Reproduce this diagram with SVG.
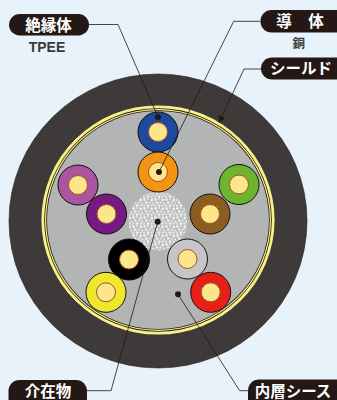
<svg xmlns="http://www.w3.org/2000/svg" width="337" height="400" viewBox="0 0 337 400">
<style>
.pill{fill:#231815}
.lbl{font-family:"Noto Sans CJK JP","Noto Sans",sans-serif;font-weight:700;fill:#fff;text-anchor:middle}
.sub{font-family:"Liberation Sans","Noto Sans CJK JP",sans-serif;font-weight:700;fill:#3a3a3a;text-anchor:middle}
.ins{stroke:#111;stroke-width:1}
.cu{fill:#fbe68a;stroke:#a5502a;stroke-width:1}
.ld{fill:none;stroke:#231815;stroke-width:0.8}
.dot{fill:#231815}
</style>
<defs>
<pattern id="fib" width="11" height="9" patternUnits="userSpaceOnUse">
<rect width="11" height="9" fill="#bdbdbd"/>
<circle cx="1.5" cy="1.5" r="1.4" fill="#ececec"/>
<circle cx="5" cy="1" r="1.1" fill="#dedede"/>
<circle cx="8.8" cy="2" r="1.4" fill="#efefef"/>
<circle cx="3.2" cy="4.5" r="1.3" fill="#f2f2f2"/>
<circle cx="6.8" cy="4.6" r="1.2" fill="#e2e2e2"/>
<circle cx="10.2" cy="5.4" r="1" fill="#ececec"/>
<circle cx="1" cy="7.5" r="1.2" fill="#e4e4e4"/>
<circle cx="5" cy="7.6" r="1.4" fill="#f0f0f0"/>
<circle cx="8.6" cy="7.6" r="1.2" fill="#e8e8e8"/>
</pattern>
<marker id="arr" markerWidth="8" markerHeight="9" refX="7" refY="4" orient="auto" markerUnits="userSpaceOnUse"><path d="M0 0L7 4L0 8Z" fill="#231815"/></marker>
</defs>
<rect width="337" height="400" fill="#e8f2fb"/>
<g id="cable">
<ellipse cx="158" cy="221" rx="149" ry="147" fill="#3e3a39" stroke="#231815" stroke-width="0.6"/>
<ellipse cx="158" cy="220" rx="116.6" ry="114.6" fill="#f8f18a"/>
<ellipse cx="158" cy="220" rx="113.8" ry="111.8" fill="#231815"/>
<ellipse cx="158" cy="220" rx="113" ry="111" fill="#f8f18a"/>
<ellipse cx="158" cy="220" rx="111.8" ry="109.8" fill="#231815"/>
<ellipse cx="158" cy="220" rx="111" ry="109" fill="#b3b4b4"/>
</g>
<g id="filler"><circle cx="158" cy="221" r="29.5" fill="url(#fib)"/></g>
<g id="core-blue"><circle class="ins" cx="158" cy="132" r="20" fill="#1d4a9e"/><circle class="cu" cx="158" cy="132" r="9.5"/></g>
<g id="core-orange"><circle class="ins" cx="158" cy="172" r="20" fill="#f39512"/><circle class="cu" cx="158" cy="172" r="9.5"/></g>
<g id="core-magenta"><circle class="ins" cx="78" cy="185" r="20" fill="#ab559f"/><circle class="cu" cx="78" cy="185" r="9.5"/></g>
<g id="core-purple"><circle class="ins" cx="106.5" cy="214" r="20" fill="#741a80"/><circle class="cu" cx="106.5" cy="214" r="9.5"/></g>
<g id="core-green"><circle class="ins" cx="239" cy="184.5" r="20" fill="#6db52f"/><circle class="cu" cx="239" cy="184.5" r="9.5"/></g>
<g id="core-brown"><circle class="ins" cx="210" cy="214" r="20" fill="#8c5d20"/><circle class="cu" cx="210" cy="214" r="9.5"/></g>
<g id="core-black"><circle class="ins" cx="129" cy="259.5" r="20.5" fill="#000"/><circle class="cu" cx="129" cy="259.5" r="9.5"/></g>
<g id="core-gray"><circle class="ins" cx="187.5" cy="259" r="20" fill="#c6c6c6"/><circle class="cu" cx="187.5" cy="259" r="9.5"/></g>
<g id="core-yellow"><circle class="ins" cx="106" cy="292.3" r="20" fill="#eee72c"/><circle class="cu" cx="106" cy="292.3" r="9.5"/></g>
<g id="core-red"><circle class="ins" cx="210.7" cy="292.3" r="20" fill="#e71f19"/><circle class="cu" cx="210.7" cy="292.3" r="9.5"/></g>
<g id="connectors">
<path class="ld" d="M89 24.5H118L158 117"/><circle class="dot" cx="158" cy="117" r="3"/>
<path class="ld" d="M260 21.3H233.7L159 172"/><circle class="dot" cx="159" cy="172" r="3"/>
<path class="ld" d="M261 69H244L219 122.7" marker-end="url(#arr)"/>
<path class="ld" d="M87 390.7H111L157.7 221.7"/><circle class="dot" cx="157.7" cy="221.7" r="3"/>
<path class="ld" d="M248 390.7H239.7L178 294.3"/><circle class="dot" cx="178" cy="294.3" r="3"/>
</g>
<g id="label-insulator"><rect class="pill" x="9" y="14" width="80" height="21.5" rx="10.7"/><text class="lbl" x="48.5" y="30.5" font-size="15.5">絶縁体</text><text class="sub" x="47" y="52" font-size="14">TPEE</text></g>
<g id="label-conductor"><rect class="pill" x="260.5" y="10" width="90" height="22.5" rx="11"/><text class="lbl" x="284" y="27" font-size="15.5">導</text><text class="lbl" x="316" y="27" font-size="15.5">体</text><text class="sub" x="298.7" y="48" font-size="12.5" style="font-family:'Noto Sans CJK JP',sans-serif">銅</text></g>
<g id="label-shield"><rect class="pill" x="261" y="57.5" width="90" height="22" rx="11"/><text class="lbl" x="301" y="74" font-size="15.5">シールド</text></g>
<g id="label-filler"><rect class="pill" x="8.5" y="380" width="78.5" height="30" rx="11"/><text class="lbl" x="48" y="397" font-size="15.5">介在物</text></g>
<g id="label-sheath"><rect class="pill" x="248" y="379.5" width="100" height="30" rx="11"/><text class="lbl" x="293" y="396.5" font-size="15.5">内層シース</text></g>
</svg>
